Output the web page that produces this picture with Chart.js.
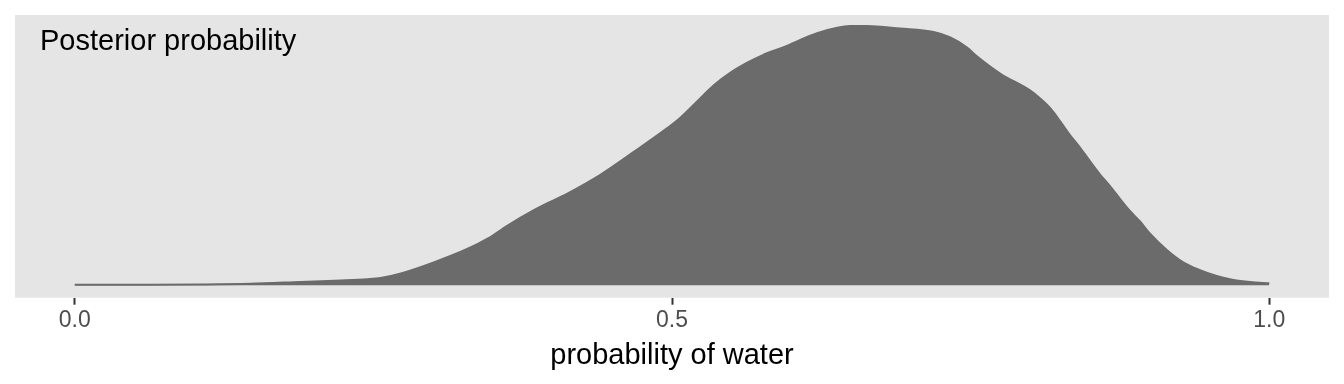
<!DOCTYPE html>
<html>
<head>
<meta charset="utf-8">
<script src="https://cdn.jsdelivr.net/npm/chart.js@4/dist/chart.umd.min.js"></script>
<style>
  html, body { margin: 0; padding: 0; background: #fff; }
  #wrap { width: 1344px; height: 384px; }
</style>
</head>
<body>
<div id="wrap"><canvas id="chart"></canvas></div>
<script>
// posterior density
const waterProb = [0.000, 0.064, 0.105, 0.147, 0.189, 0.223, 0.245, 0.256, 0.273, 0.300,
  0.329, 0.346, 0.362, 0.384, 0.398, 0.412, 0.440, 0.468, 0.496, 0.507,
  0.521, 0.535, 0.549, 0.563, 0.576, 0.593, 0.622, 0.649, 0.663, 0.691,
  0.719, 0.733, 0.747, 0.755, 0.775, 0.800, 0.808, 0.817, 0.825, 0.833,
  0.842, 0.850, 0.858, 0.867, 0.875, 0.883, 0.892, 0.900, 0.914, 0.928,
  0.942, 0.956, 0.970, 0.984, 1.000];
const density = [0.006, 0.006, 0.009, 0.017, 0.037, 0.053, 0.067, 0.080, 0.131, 0.251,
  0.405, 0.520, 0.660, 0.830, 0.925, 1.015, 1.226, 1.480, 1.744, 1.860,
  2.040, 2.220, 2.360, 2.470, 2.555, 2.640, 2.800, 2.878, 2.878, 2.850,
  2.812, 2.752, 2.640, 2.545, 2.348, 2.160, 2.075, 1.960, 1.820, 1.670,
  1.520, 1.375, 1.235, 1.095, 0.960, 0.830, 0.705, 0.575, 0.395, 0.255,
  0.168, 0.103, 0.059, 0.036, 0.022];
const tickValues = [0, 0.5, 1];
const plotTitle = 'Posterior probability';
const xTitle = 'probability of water';

const fontFamily = '"Liberation Sans", Arial, Helvetica, sans-serif';

// grey panel like ggplot + the text in the corner
const panelBg = {
  id: 'panelBg',
  beforeDraw(chart) {
    const { ctx, chartArea: a } = chart;
    ctx.save();
    ctx.fillStyle = '#E5E5E5';
    ctx.fillRect(a.left, a.top, a.right - a.left, a.bottom - a.top);
    ctx.restore();
  },
  afterDraw(chart) {
    const { ctx, chartArea: a } = chart;
    ctx.save();
    ctx.fillStyle = '#000';
    ctx.font = '29px ' + fontFamily;
    ctx.textBaseline = 'alphabetic';
    ctx.textAlign = 'left';
    ctx.fillText(plotTitle, a.left + 25, a.top + 34.5);
    ctx.restore();
  }
};

new Chart(document.getElementById('chart'), {
  type: 'line',
  data: {
    datasets: [{
      data: waterProb.map((x, i) => ({ x: x, y: density[i] })),
      borderColor: '#6B6B6B',
      backgroundColor: '#6B6B6B',
      borderWidth: 2,
      fill: 'origin',
      pointRadius: 0,
      cubicInterpolationMode: 'monotone'
    }]
  },
  options: {
    responsive: true,
    maintainAspectRatio: false,
    animation: false,
    layout: { padding: { left: 15, right: 15, top: 15, bottom: 0 } },
    plugins: { legend: { display: false }, tooltip: { enabled: false } },
    scales: {
      x: {
        type: 'linear',
        min: -0.05,
        max: 1.05,
        afterBuildTicks(scale) {
          scale.ticks = tickValues.map(v => ({ value: v }));
        },
        afterFit(scale) {
          scale.height = 86.3;
        },
        border: { display: false },
        grid: {
          display: true,
          drawOnChartArea: false,
          drawTicks: true,
          tickLength: 7,
          tickWidth: 2,
          tickColor: '#333333'
        },
        ticks: {
          padding: 2,
          color: '#4D4D4D',
          font: { family: fontFamily, size: 23 },
          maxRotation: 0,
          callback: v => v.toFixed(1)
        },
        title: {
          display: true,
          text: xTitle,
          color: '#000',
          font: { family: fontFamily, size: 29, lineHeight: 1 },
          padding: { top: 0, bottom: 14 }
        }
      },
      y: {
        display: false,
        min: -0.138,
        max: 3.0
      }
    }
  },
  plugins: [panelBg]
});
</script>
</body>
</html>
